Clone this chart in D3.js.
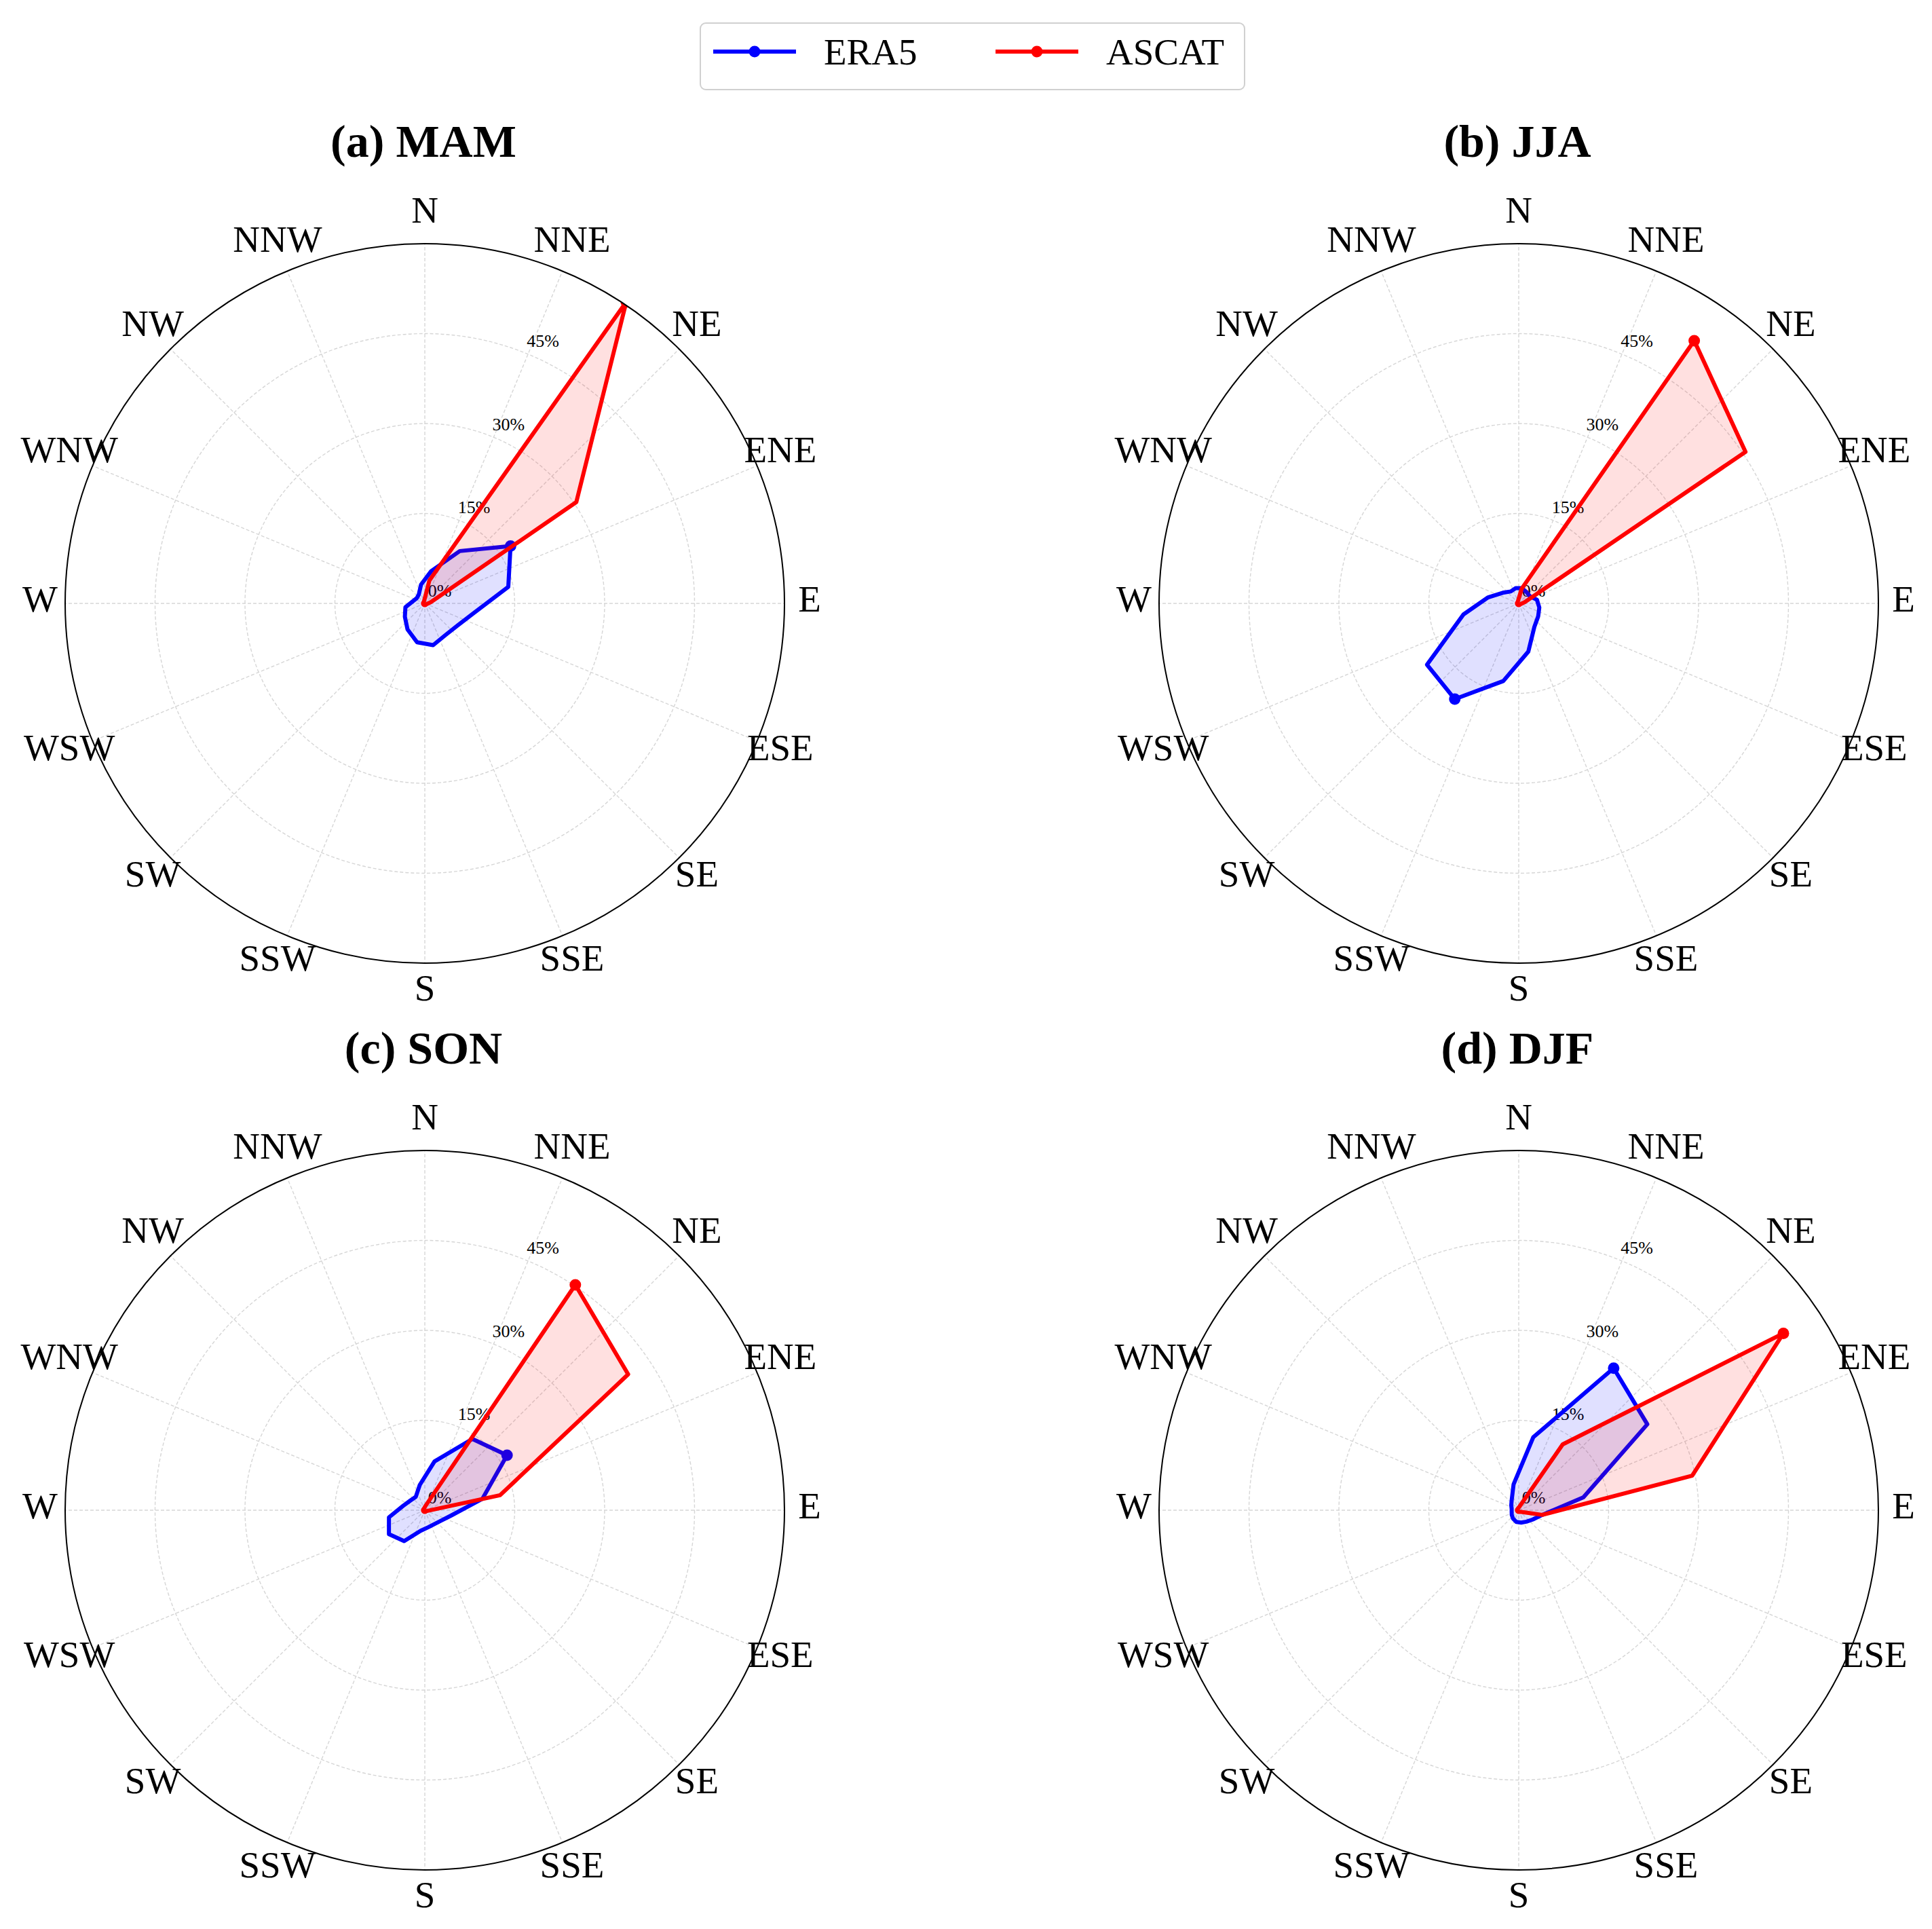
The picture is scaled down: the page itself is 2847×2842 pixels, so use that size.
<!DOCTYPE html>
<html>
<head>
<meta charset="utf-8">
<script src="https://cdn.jsdelivr.net/npm/d3@7"></script>
<style>
  body { margin: 0; background: #fff; }
  text { font-family: "Liberation Serif", "Times New Roman", serif; }
</style>
</head>
<body>
<svg id="chart" width="2847" height="2842"></svg>
<script>
// compass labels and bin centres (degrees from north, clockwise)
const dirLabels = ['N','NNE','NE','ENE','E','ESE','SE','SSE','S','SSW','SW','WSW','W','WNW','NW','NNW'];
const binAngles = d3.range(16).map(i => 11.25 + 22.5 * i);
const rTicks = [0, 15, 30, 45];
const rMax = 60;

const seasons = ['(a) MAM', '(b) JJA', '(c) SON', '(d) DJF'];

// frequency (%) per bin, ERA5
const era5MAM = [5.5, 10.5, 17.2, 14.2, 8.3, 6.6, 6.3, 7.1, 6.6, 5.2, 4.0, 3.3, 2.0, 1.6, 1.8, 3.2];
const era5JJA = [2.6, 2.3, 2.2, 3.1, 3.5, 3.9, 4.7, 8.2, 13.2, 19.2, 18.4, 9.4, 5.2, 3.2, 2.4, 2.6];
const era5SON = [8.3, 14.3, 16.5, 9.8, 4.5, 3.2, 2.8, 2.9, 3.5, 6.2, 7.2, 6.1, 3.7, 2.9, 2.7, 4.3];
const era5DJF = [12.4, 28.5, 25.8, 11.0, 4.0, 2.8, 2.3, 2.1, 2.0, 1.7, 1.4, 1.2, 1.2, 1.5, 2.1, 4.4];

// frequency (%) per bin, ASCAT
const ascatMAM = [3.9, 60.5, 30.4, 1.0, 0.4, 0.3, 0.3, 0.3, 0.3, 0.3, 0.3, 0.3, 0.3, 0.3, 0.3, 0.5];
const ascatJJA = [2.5, 52.7, 45.5, 1.0, 0.4, 0.3, 0.3, 0.3, 0.3, 0.3, 0.3, 0.3, 0.3, 0.3, 0.3, 0.5];
const ascatSON = [0.8, 45.2, 40.8, 12.8, 0.5, 0.3, 0.3, 0.3, 0.3, 0.3, 0.3, 0.3, 0.3, 0.3, 0.3, 0.4];
const ascatDJF = [0.6, 13.2, 53.1, 29.5, 4.0, 0.5, 0.3, 0.3, 0.3, 0.3, 0.3, 0.3, 0.3, 0.3, 0.3, 0.4];

const era5 = [era5MAM, era5JJA, era5SON, era5DJF];
const ascat = [ascatMAM, ascatJJA, ascatSON, ascatDJF];

const series = [
  { name: 'ERA5', color: '#0000ff', data: era5 },
  { name: 'ASCAT', color: '#ff0000', data: ascat }
];

const svg = d3.select('#chart');
const R = 530;
const centers = [[626, 889], [2238, 889], [626, 2225], [2238, 2225]];

const rScale = d3.scaleLinear().domain([0, rMax]).range([0, R]);
const toRad = d => d * Math.PI / 180;

const line = d3.lineRadial()
  .angle(d => toRad(d[0]))
  .radius(d => rScale(d[1]))
  .curve(d3.curveLinearClosed);

seasons.forEach((title, si) => {
  const [cx, cy] = centers[si];
  const g = svg.append('g').attr('transform', `translate(${cx},${cy})`);

  svg.append('defs').append('clipPath').attr('id', 'clip' + si)
    .append('circle').attr('r', R);

  // grid circles
  g.selectAll('.ring').data(rTicks.slice(1)).join('circle')
    .attr('r', d => rScale(d))
    .attr('fill', 'none').attr('stroke', '#d6d6d6')
    .attr('stroke-width', 1.4).attr('stroke-dasharray', '5,3');

  // spokes
  g.selectAll('.spoke').data(dirLabels).join('line')
    .attr('x1', 0).attr('y1', 0)
    .attr('x2', (d, i) => R * Math.sin(toRad(i * 22.5)))
    .attr('y2', (d, i) => -R * Math.cos(toRad(i * 22.5)))
    .attr('stroke', '#d6d6d6').attr('stroke-width', 1.4).attr('stroke-dasharray', '5,3');

  // radial tick labels
  g.selectAll('.rlab').data(rTicks).join('text')
    .attr('x', d => rScale(d) * Math.sin(toRad(22.5)) + 22)
    .attr('y', d => -rScale(d) * Math.cos(toRad(22.5)) - 19)
    .attr('text-anchor', 'middle').attr('dominant-baseline', 'central')
    .attr('font-size', 26).attr('fill', '#000')
    .text(d => d + '%');

  // series
  const plot = g.append('g').attr('clip-path', `url(#clip${si})`);
  series.forEach(s => {
    const vals = s.data[si];
    const pts = vals.map((v, i) => [binAngles[i], v]);
    plot.append('path')
      .attr('d', line(pts))
      .attr('fill', s.color).attr('fill-opacity', 0.12)
      .attr('stroke', s.color).attr('stroke-width', 6)
      .attr('stroke-linejoin', 'round');
    const imax = d3.maxIndex(vals);
    plot.append('circle')
      .attr('cx', rScale(vals[imax]) * Math.sin(toRad(binAngles[imax])))
      .attr('cy', -rScale(vals[imax]) * Math.cos(toRad(binAngles[imax])))
      .attr('r', 8.5).attr('fill', s.color);
  });

  // outer spine
  g.append('circle').attr('r', R).attr('fill', 'none')
    .attr('stroke', '#000').attr('stroke-width', 2);

  // compass labels
  g.selectAll('.dlab').data(dirLabels).join('text')
    .attr('x', (d, i) => 567 * Math.sin(toRad(i * 22.5)))
    .attr('y', (d, i) => -573 * Math.cos(toRad(i * 22.5)) - 7)
    .attr('text-anchor', 'middle').attr('dominant-baseline', 'central')
    .attr('font-size', 55).attr('fill', '#000')
    .text(d => d);

  // title
  svg.append('text')
    .attr('x', cx - 2).attr('y', cy - 658)
    .attr('text-anchor', 'middle')
    .attr('font-size', 68).attr('font-weight', 'bold')
    .text(title);
});

// legend
const leg = svg.append('g');
leg.append('rect')
  .attr('x', 1032).attr('y', 34).attr('width', 802).attr('height', 98)
  .attr('rx', 8).attr('fill', '#fff').attr('stroke', '#d0d0d0').attr('stroke-width', 2);
const legX = [1051, 1467];
series.forEach((s, i) => {
  const x0 = legX[i];
  leg.append('line').attr('x1', x0).attr('x2', x0 + 122).attr('y1', 76).attr('y2', 76)
    .attr('stroke', s.color).attr('stroke-width', 6);
  leg.append('circle').attr('cx', x0 + 61).attr('cy', 76).attr('r', 8.5).attr('fill', s.color);
  leg.append('text').attr('x', x0 + 163).attr('y', 76)
    .attr('dominant-baseline', 'central').attr('font-size', 55)
    .text(s.name);
});
</script>
</body>
</html>
